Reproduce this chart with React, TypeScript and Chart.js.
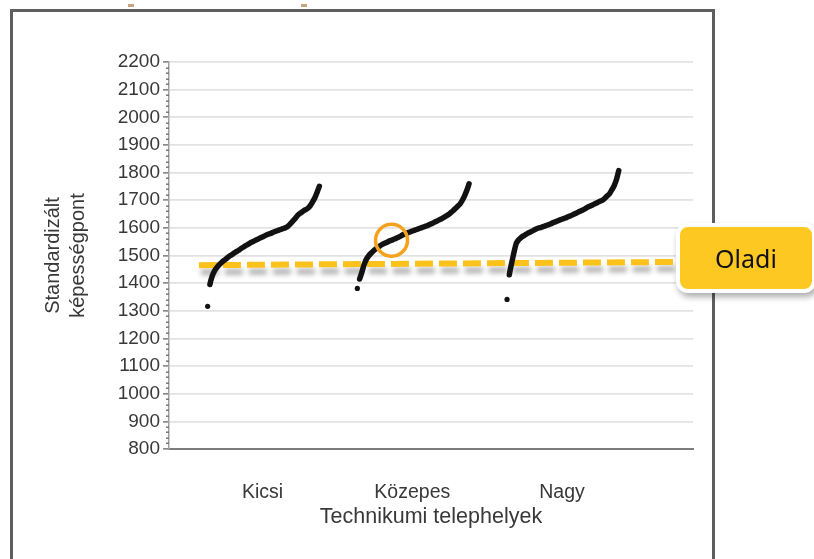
import React, { useEffect, useRef } from 'react';
import { Chart, registerables } from 'chart.js';

Chart.register(...registerables);

// ---- data ----
const categories = ['Kicsi', 'Közepes', 'Nagy'];

const kicsiScores = [
  1316, 1395, 1425, 1444, 1456, 1466, 1474, 1481, 1487, 1494,
  1500, 1505, 1511, 1516, 1521, 1527, 1532, 1537, 1542, 1547,
  1551, 1555, 1559, 1563, 1567, 1571, 1575, 1578, 1581, 1585,
  1588, 1591, 1594, 1597, 1600, 1604, 1612, 1621, 1630, 1640,
  1649, 1655, 1661, 1666, 1671, 1680, 1693, 1708, 1728, 1750,
];

const kozepesScores = [
  1381, 1415, 1440, 1468, 1487, 1499, 1508, 1516, 1523, 1529,
  1535, 1540, 1544, 1548, 1552, 1555, 1559, 1562, 1566, 1570,
  1575, 1579, 1582, 1585, 1588, 1591, 1594, 1597, 1600, 1603,
  1606, 1609, 1613, 1617, 1621, 1625, 1629, 1633, 1638, 1643,
  1648, 1655, 1662, 1670, 1678, 1686, 1699, 1715, 1735, 1759,
];

const nagyScores = [
  1341, 1430, 1472, 1510, 1543, 1556, 1564, 1570, 1575, 1580,
  1584, 1588, 1593, 1597, 1600, 1602, 1605, 1608, 1611, 1614,
  1618, 1621, 1625, 1628, 1631, 1634, 1637, 1641, 1644, 1648,
  1652, 1656, 1660, 1664, 1668, 1673, 1677, 1681, 1685, 1689,
  1693, 1697, 1701, 1708, 1716, 1724, 1738, 1753, 1775, 1807,
];

const yMin = 800;
const yMax = 2200;
const yStep = 100;
const yMinorStep = 20;

const yTitle = ['Standardizált', 'képességpont'];
const xTitle = 'Technikumi telephelyek';
const refLabel = 'Oladi';
const refLevel = [1465, 1477]; // reference line at its left and right end
const highlightIndex = 15; // highlighted student in "Közepes"

// ---- layout helpers (not data) ----
const X_MIN = 0.375;
const X_MAX = 3.875;
const GROUP_START = -0.367;
const GROUP_END = 0.379;
const REF_START = 0.575;

function groupPoints(values: number[], catPos: number) {
  const n = values.length;
  return values.map((v, i) => ({
    x: catPos + GROUP_START + ((GROUP_END - GROUP_START) * i) / (n - 1),
    y: v,
  }));
}

const FONT = "'Liberation Sans', Arial, sans-serif";
const TEXT = '#383838';
const INK = '#121212';

export default function App() {
  const canvasRef = useRef<HTMLCanvasElement | null>(null);

  useEffect(() => {
    const canvas = canvasRef.current;
    if (!canvas) return;

    const groups = [kicsiScores, kozepesScores, nagyScores];
    const curveSets = groups.map((vals, gi) => ({
      type: 'line' as const,
      label: categories[gi],
      data: groupPoints(vals, gi + 1),
      borderColor: INK,
      borderWidth: 5.5,
      borderCapStyle: 'round' as const,
      borderJoinStyle: 'round' as const,
      tension: 0.2,
      pointRadius: (ctx: any) => (ctx.dataIndex === 0 ? 2.6 : 0),
      pointBackgroundColor: INK,
      pointBorderWidth: 0,
      segment: {
        borderColor: (ctx: any) => (ctx.p0DataIndex === 0 ? 'rgba(0,0,0,0)' : INK),
      },
    }));

    const hp = groupPoints(kozepesScores, 2)[highlightIndex];

    const shadowPlugin = {
      id: 'refShadow',
      beforeDatasetDraw(chart: any, args: any) {
        if (args.meta && args.meta.label === refLabel) {
          const c = chart.ctx;
          c.save();
          c.shadowColor = 'rgba(0,0,0,0.3)';
          c.shadowBlur = 5;
          c.shadowOffsetX = 2;
          c.shadowOffsetY = 7;
        }
      },
      afterDatasetDraw(chart: any, args: any) {
        if (args.meta && args.meta.label === refLabel) {
          chart.ctx.restore();
        }
      },
    };

    const minorTicks = {
      id: 'minorTicks',
      afterDraw(chart: any) {
        const c = chart.ctx;
        const ys = chart.scales.y;
        const left = chart.chartArea.left;
        c.save();
        c.fillStyle = '#6f6f6f';
        for (let v = yMin; v <= yMax; v += yMinorStep) {
          if (v % yStep === 0) continue;
          const py = ys.getPixelForValue(v);
          c.fillRect(left - 3, Math.round(py) - 0.5, 3, 1.4);
        }
        c.restore();
      },
    };

    const chart = new Chart(canvas, {
      type: 'scatter',
      data: {
        datasets: [
          {
            type: 'scatter',
            label: 'highlight',
            data: [hp],
            pointRadius: 16,
            pointHoverRadius: 16,
            borderColor: '#f6a11c',
            borderWidth: 3.5,
            backgroundColor: 'rgba(0,0,0,0)',
          } as any,
          ...curveSets,
          {
            type: 'line',
            label: refLabel,
            data: [
              { x: REF_START, y: refLevel[0] },
              { x: X_MAX, y: refLevel[1] },
            ],
            borderColor: '#fbc21c',
            borderWidth: 6,
            borderDash: [18, 6],
            pointRadius: 0,
            tension: 0,
          } as any,
        ],
      },
      options: {
        animation: false,
        responsive: false,
        maintainAspectRatio: false,
        devicePixelRatio: 1,
        layout: { padding: { left: 0, top: 62, right: 121, bottom: 0 } },
        plugins: {
          legend: { display: false },
          tooltip: { enabled: false },
        },
        events: [],
        scales: {
          x: {
            type: 'linear',
            min: X_MIN,
            max: X_MAX,
            afterBuildTicks: (s: any) => {
              s.ticks = categories.map((_, i) => ({ value: i + 1 }));
            },
            afterFit: (s: any) => {
              s.height = 110;
            },
            grid: { display: false, drawTicks: false },
            border: { display: true, color: '#7d7d7d', width: 2 },
            ticks: {
              autoSkip: false,
              maxRotation: 0,
              padding: 32,
              color: TEXT,
              font: { family: FONT, size: 19.5 },
              callback: (v: any) => categories[Math.round(Number(v)) - 1] ?? '',
            },
            title: {
              display: true,
              text: xTitle,
              color: TEXT,
              font: { family: FONT, size: 21.5 },
              padding: { top: 0, bottom: 29 },
            },
          },
          y: {
            type: 'linear',
            min: yMin,
            max: yMax,
            afterFit: (s: any) => {
              s.width = 169;
            },
            ticks: {
              stepSize: yStep,
              autoSkip: false,
              padding: 3,
              color: TEXT,
              font: { family: FONT, size: 19 },
              callback: (v: any) => String(v),
            },
            grid: {
              color: '#e2e2e2',
              lineWidth: 1.7,
              drawTicks: true,
              tickLength: 6,
              tickColor: '#8a8a8a',
            },
            border: { display: true, color: '#a0a0a0', width: 1.5 },
            title: {
              display: true,
              text: yTitle,
              color: TEXT,
              font: { family: FONT, size: 20, lineHeight: 1.25 },
              padding: { top: 41, bottom: 0 },
            },
          },
        },
      },
      plugins: [shadowPlugin, minorTicks],
    } as any);

    return () => {
      chart.destroy();
    };
  }, []);

  return (
    <div
      style={{
        position: 'fixed',
        left: 0,
        top: 0,
        width: 814,
        height: 559,
        overflow: 'hidden',
        background: '#ffffff',
      }}
    >
      <div
        style={{
          position: 'absolute',
          left: 10,
          top: 9,
          width: 699,
          height: 620,
          border: '3px solid #5e5e5e',
        }}
      />
      <div style={{ position: 'absolute', left: 128, top: 4, width: 6, height: 3, background: '#c8a47c' }} />
      <div style={{ position: 'absolute', left: 301, top: 4, width: 6, height: 3, background: '#c8a47c' }} />
      <canvas
        ref={canvasRef}
        width={814}
        height={559}
        style={{ position: 'absolute', left: 0, top: 0, width: 814, height: 559 }}
      />
      <div
        style={{
          position: 'absolute',
          left: 676,
          top: 223,
          width: 140,
          height: 70,
          boxSizing: 'border-box',
          border: '4px solid #ffffff',
          borderRadius: 12,
          background: '#fec823',
          boxShadow: '2px 4px 6px rgba(0,0,0,0.32)',
          display: 'flex',
          alignItems: 'center',
          justifyContent: 'center',
          fontFamily: "'Noto Sans', 'Open Sans', sans-serif",
          fontSize: 25,
          color: '#111111',
        }}
      >
        {refLabel}
      </div>
    </div>
  );
}
